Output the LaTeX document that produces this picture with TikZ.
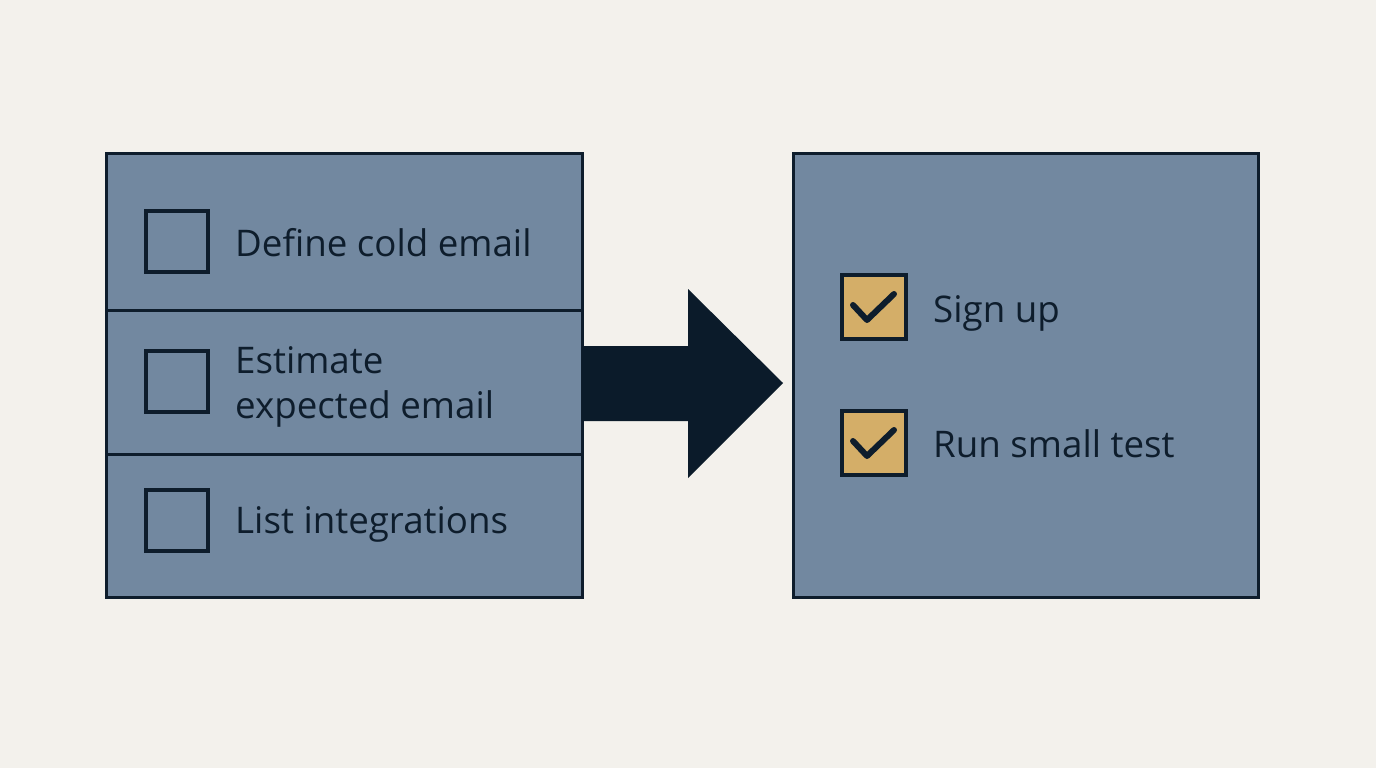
\documentclass[tikz,border=0pt]{standalone}
\usepackage{fontspec}
\setmainfont{Open Sans}
\definecolor{bg}{HTML}{F3F1EC}
\definecolor{panel}{HTML}{7288A0}
\definecolor{ink}{HTML}{0E1D2C}
\definecolor{arrowc}{HTML}{0B1B2A}
\definecolor{gold}{HTML}{D4AE68}
\tikzset{
  panelbox/.style={fill=panel, draw=ink, line width=3pt},
  divider/.style={draw=ink, line width=3pt},
  emptybox/.style={draw=ink, line width=3.2pt},
  donebox/.style={fill=gold, draw=ink, line width=3.2pt},
  tick/.style={draw=ink, line width=6pt, line cap=round, line join=round},
  label/.style={anchor=base west, inner sep=0pt, text=ink, font=\fontsize{36.7}{46}\selectfont, align=left},
}
\begin{document}
\begin{tikzpicture}[x=1pt,y=-1pt]
\fill[bg] (0,0) rectangle (1376,768);
\useasboundingbox (0,0) rectangle (1376,768);
% left panel
\path[panelbox] (106,153) rectangle (582,597);
\draw[divider] (106,310) -- (582,310);
\draw[divider] (106,454) -- (582,454);
\draw[emptybox] (146,211) rectangle (208,272);
\draw[emptybox] (146,351) rectangle (208,412);
\draw[emptybox] (146,490) rectangle (208,551);
\node[label] (t1) at (235,256) {Define cold email};
\node[label] (t2) at (235,373) {Estimate};
\node[label] (t2b) at (235,418) {expected email};
\node[label] (t3) at (235,533) {List integrations};
% arrow
\fill[arrowc] (582,346) -- (688,346) -- (688,289) -- (783,383) -- (688,478) -- (688,421) -- (582,421) -- cycle;
% right panel
\path[panelbox] (793,153) rectangle (1258,597);
\draw[donebox] (842,275) rectangle (906,339);
\draw[tick] (853,305) -- (867,320) -- (894,294);
\draw[donebox] (842,411) rectangle (906,475);
\draw[tick] (853,441) -- (867,456) -- (894,430);
\node[label] (s1) at (933,322) {Sign up};
\node[label] (s2) at (933,457) {Run small test};
\end{tikzpicture}
\end{document}
